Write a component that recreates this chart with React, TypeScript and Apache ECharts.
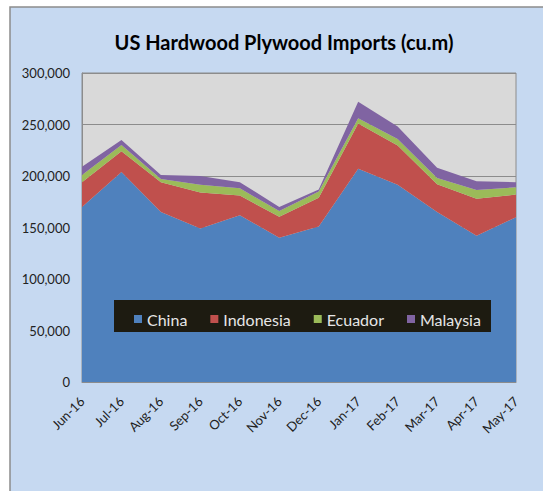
import React, { useEffect, useRef } from "react";
import * as echarts from "echarts";

const categories = ["Jun-16", "Jul-16", "Aug-16", "Sep-16", "Oct-16", "Nov-16", "Dec-16", "Jan-17", "Feb-17", "Mar-17", "Apr-17", "May-17"];
const china = [170000, 204000, 165000, 149000, 162000, 140000, 151000, 207000, 191500, 165000, 142000, 160000];
const indonesia = [24000, 20000, 29000, 35000, 19000, 20500, 28000, 44000, 38000, 27000, 36000, 22000];
const ecuador = [7000, 6000, 3000, 7500, 7000, 5500, 6000, 5000, 6500, 6000, 8500, 7000];
const malaysia = [8000, 5000, 4000, 8500, 6000, 4000, 2000, 16000, 12000, 10000, 8500, 5000];
const yTicks = [0, 50000, 100000, 150000, 200000, 250000, 300000];

const seriesDefs = [
  { name: "China", data: china, color: "#4F81BD" },
  { name: "Indonesia", data: indonesia, color: "#C0504D" },
  { name: "Ecuador", data: ecuador, color: "#9BBB59" },
  { name: "Malaysia", data: malaysia, color: "#8064A2" },
];

const FONT = "Lato, 'Open Sans', sans-serif";

export default function App() {
  const ref = useRef<HTMLDivElement>(null);
  useEffect(() => {
    if (!ref.current) return;
    const chart = echarts.init(ref.current, null, { renderer: "svg" });
    chart.setOption({
      animation: false,
      backgroundColor: "#ffffff",
      textStyle: { fontFamily: FONT },
      title: {
        text: "US Hardwood Plywood Imports (cu.m)",
        left: 279,
        textAlign: "center",
        top: 27,
        textStyle: { fontFamily: FONT, fontSize: 20, fontWeight: "bold", color: "#000" },
      },
      graphic: [
        {
          type: "rect",
          z: -10,
          shape: { x: 10, y: 7, width: 545, height: 500 },
          style: { fill: "#C6D9F1", stroke: "#8C8C8C", lineWidth: 1.5 },
        },
        {
          type: "rect",
          z: 3,
          shape: { x: 114, y: 300, width: 377, height: 32 },
          style: { fill: "#1D1B11" },
        },
      ],
      legend: {
        left: 129,
        top: 306,
        z: 5,
        itemGap: 23,
        itemWidth: 8,
        itemHeight: 8,
        icon: "rect",
        textStyle: { fontFamily: FONT, fontSize: 16, color: "#E6E6E6" },
        data: seriesDefs.map((s) => s.name),
      },
      grid: {
        left: 82,
        right: 27,
        top: 73,
        bottom: 109,
        show: true,
        backgroundColor: "#D9D9D9",
        borderColor: "#8C8C8C",
        borderWidth: 1,
      },
      xAxis: {
        type: "category",
        data: categories,
        boundaryGap: false,
        axisLine: { show: true, lineStyle: { color: "#8C8C8C" } },
        axisTick: { show: false },
        axisLabel: { rotate: 45, fontSize: 13, color: "#222", margin: 17, fontFamily: FONT, interval: 0 },
        splitLine: { show: false },
      },
      yAxis: {
        type: "value",
        min: yTicks[0],
        max: yTicks[yTicks.length - 1],
        interval: 50000,
        axisLine: { show: true, lineStyle: { color: "#8C8C8C" } },
        axisTick: { show: false },
        axisLabel: {
          fontSize: 13,
          color: "#222",
          margin: 12,
          fontFamily: FONT,
          formatter: (v: number) => v.toLocaleString("en-US"),
        },
        splitLine: { show: true, lineStyle: { color: "#8C8C8C", width: 1 } },
      },
      series: seriesDefs.map((s) => ({
        name: s.name,
        type: "line",
        stack: "total",
        data: s.data,
        symbol: "none",
        lineStyle: { width: 0 },
        itemStyle: { color: s.color },
        areaStyle: { color: s.color, opacity: 1 },
        z: 2,
      })),
    });
    return () => chart.dispose();
  }, []);
  return (
    <div style={{ position: "fixed", left: 0, top: 0, width: 543, height: 491 }}>
      <div ref={ref} style={{ width: 543, height: 491 }} />
    </div>
  );
}
